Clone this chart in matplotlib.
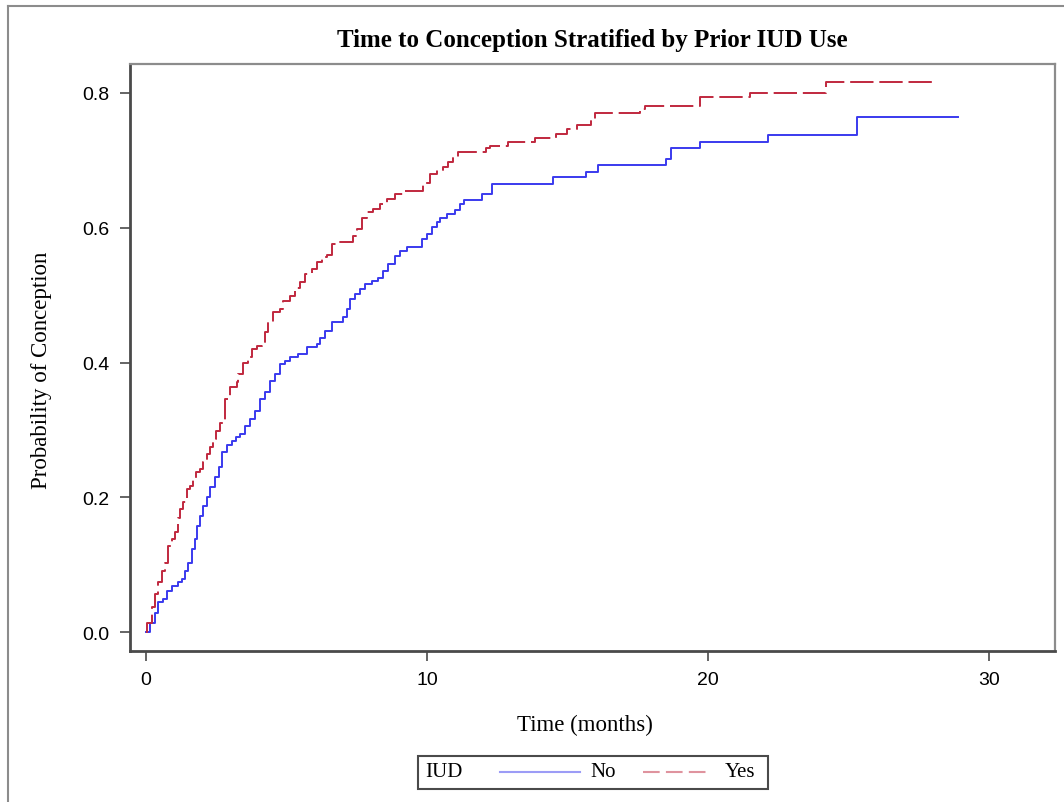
'''
Cumulative probability of conception by prior IUD use (step curves)
'''
import matplotlib.pyplot as plt
from matplotlib.lines import Line2D
from matplotlib.patches import Rectangle

# step points: time (months) and cumulative probability
no_time = [0, 0.14, 0.32, 0.44, 0.62, 0.74, 0.91, 1.15, 1.27, 1.39, 1.50, 1.62, 1.74, 1.80,
           1.92, 2.04, 2.16, 2.28, 2.46, 2.60, 2.69, 2.87, 3.05, 3.20, 3.35, 3.52, 3.70, 3.88,
           4.06, 4.23, 4.41, 4.59, 4.77, 4.95, 5.12, 5.42, 5.72, 6.07, 6.19, 6.37, 6.61, 7.02,
           7.14, 7.26, 7.44, 7.62, 7.79, 8.03, 8.27, 8.45, 8.62, 8.86, 9.04, 9.28, 9.81, 9.99,
           10.17, 10.34, 10.46, 10.70, 11.00, 11.17, 11.30, 11.95, 12.30, 14.50, 15.67, 16.10,
           18.50, 18.70, 19.72, 22.15, 25.30, 28.90]
no_prob = [0, 0.014, 0.029, 0.044, 0.049, 0.061, 0.069, 0.074, 0.079, 0.091, 0.103, 0.123,
           0.138, 0.158, 0.173, 0.187, 0.200, 0.215, 0.230, 0.245, 0.268, 0.277, 0.283, 0.290,
           0.294, 0.306, 0.316, 0.328, 0.346, 0.356, 0.373, 0.383, 0.398, 0.403, 0.408, 0.413,
           0.423, 0.427, 0.436, 0.447, 0.460, 0.467, 0.479, 0.494, 0.502, 0.509, 0.517, 0.521,
           0.526, 0.536, 0.546, 0.558, 0.566, 0.571, 0.583, 0.591, 0.601, 0.608, 0.615, 0.620,
           0.626, 0.635, 0.641, 0.650, 0.665, 0.675, 0.683, 0.693, 0.702, 0.718, 0.727, 0.737,
           0.765, 0.765]

yes_time = [0, 0.02, 0.20, 0.32, 0.44, 0.56, 0.68, 0.79, 0.91, 1.03, 1.15, 1.21, 1.33, 1.45,
            1.57, 1.68, 1.78, 1.92, 2.04, 2.16, 2.28, 2.40, 2.50, 2.63, 2.81, 2.99, 3.23, 3.29,
            3.46, 3.64, 3.76, 3.94, 4.12, 4.23, 4.35, 4.53, 4.77, 4.89, 5.12, 5.30, 5.48, 5.66,
            5.90, 6.07, 6.25, 6.43, 6.61, 6.79, 7.38, 7.50, 7.68, 7.85, 8.09, 8.33, 8.57, 8.86,
            9.16, 9.87, 10.10, 10.34, 10.58, 10.76, 10.94, 11.10, 12.10, 12.25, 12.90, 13.84,
            14.60, 15.00, 15.34, 15.82, 15.97, 17.59, 17.75, 19.72, 21.50, 24.20, 28.10]
yes_prob = [0, 0.014, 0.037, 0.056, 0.074, 0.091, 0.103, 0.128, 0.138, 0.148, 0.170, 0.183,
            0.193, 0.212, 0.217, 0.225, 0.237, 0.242, 0.252, 0.264, 0.274, 0.286, 0.298, 0.311,
            0.346, 0.363, 0.371, 0.383, 0.400, 0.408, 0.420, 0.425, 0.430, 0.445, 0.460, 0.475,
            0.479, 0.492, 0.499, 0.510, 0.519, 0.531, 0.539, 0.549, 0.556, 0.560, 0.576, 0.579,
            0.588, 0.598, 0.615, 0.623, 0.628, 0.635, 0.642, 0.650, 0.655, 0.667, 0.680, 0.685,
            0.690, 0.697, 0.704, 0.712, 0.718, 0.722, 0.728, 0.733, 0.739, 0.746, 0.752, 0.759,
            0.770, 0.776, 0.781, 0.794, 0.800, 0.816, 0.816]

x_ticks = [0, 10, 20, 30]
y_ticks = [0.0, 0.2, 0.4, 0.6, 0.8]
group_title = 'IUD'
group_labels = ['No', 'Yes']

blue = '#3a3aee'
red = '#c0283e'
frame = '#4a4a4a'
serif = ['Liberation Serif', 'DejaVu Serif']
narrow = ['Liberation Sans Narrow', 'Liberation Sans', 'DejaVu Sans']

W, H = 1064, 803
def fx(x):
    return x / W
def fy(y):
    return 1 - y / H

fig = plt.figure(figsize=(W / 100, H / 100), dpi=100)
ax = fig.add_axes([fx(130), fy(652), fx(1055) - fx(130), fy(65) - fy(652)])

ax.step(no_time, no_prob, where='post', color=blue, lw=1.4)
ax.step(yes_time, yes_prob, where='post', color=red, lw=1.4, dashes=(12, 3))

ax.set_xlim(-0.57, 32.35)
ax.set_ylim(-0.028, 0.843)
ax.set_xticks(x_ticks)
ax.set_xticklabels([str(t) for t in x_ticks], family=narrow, fontsize=14)
ax.set_yticks(y_ticks)
ax.set_yticklabels(['%.1f' % t for t in y_ticks], family=narrow, fontsize=14)
ax.tick_params(direction='out', length=7.5, width=1.2, color=frame, pad=7)

for side in ['bottom', 'left']:
    ax.spines[side].set_color(frame)
    ax.spines[side].set_linewidth(2)
for side in ['top', 'right']:
    ax.spines[side].set_color('#8c8c8c')
    ax.spines[side].set_linewidth(1.6)

ax.set_title('Time to Conception Stratified by Prior IUD Use', family=serif,
             fontsize=18, fontweight='bold', pad=13)
ax.set_xlabel('Time (months)', family=serif, fontsize=16.5)
ax.xaxis.set_label_coords(0.492, -0.107)
ax.set_ylabel('Probability of Conception', family=serif, fontsize=16.5)
ax.yaxis.set_label_coords(-0.084, 0.48)

# outer border of the graph area
fig.add_artist(Line2D([fx(8), fx(8)], [fy(7), 0], transform=fig.transFigure, color='#8c8c8c', lw=1.5))
fig.add_artist(Line2D([fx(8), 1], [fy(7), fy(7)], transform=fig.transFigure, color='#8c8c8c', lw=1.5))

# legend drawn as a single row: title, line, label, line, label
ly = fy(773)
fig.add_artist(Rectangle((fx(418), fy(790)), fx(768) - fx(418), fy(757) - fy(790),
                         transform=fig.transFigure, fill=False, edgecolor=frame, lw=1.5))
fig.text(fx(425), ly, group_title, family=serif, fontsize=15, va='center')
fig.add_artist(Line2D([fx(500), fx(580)], [ly, ly], transform=fig.transFigure,
                      color=blue, lw=1.5, alpha=0.5))
fig.text(fx(590), ly, group_labels[0], family=serif, fontsize=15, va='center')
fig.add_artist(Line2D([fx(643), fx(708)], [ly, ly], transform=fig.transFigure,
                      color=red, lw=1.5, alpha=0.5, dashes=(8, 3)))
fig.text(fx(725), ly, group_labels[1], family=serif, fontsize=15, va='center')

fig.savefig('out.png', dpi=100)
